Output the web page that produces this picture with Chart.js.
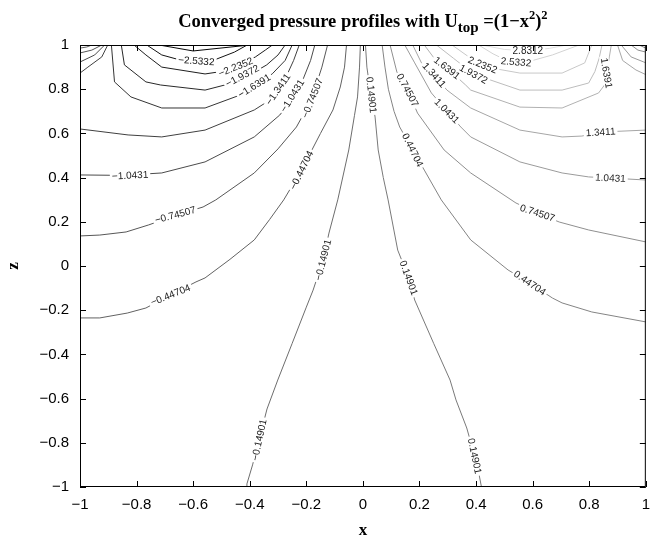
<!DOCTYPE html>
<html>
<head>
<meta charset="utf-8">
<script src="https://cdn.jsdelivr.net/npm/chart.js@4.4.1/dist/chart.umd.min.js"></script>
<style>
html, body { margin: 0; padding: 0; background: #fff; }
#wrap { position: relative; width: 659px; height: 548px; }
</style>
</head>
<body>
<div id="wrap"><canvas id="chart"></canvas></div>
<script>
// contour levels of the pressure field
const levels = [-2.8312, -2.5332, -2.2352, -1.9372, -1.6391, -1.3411, -1.0431, -0.74507, -0.44704, -0.14901,
                0.14901, 0.44704, 0.74507, 1.0431, 1.3411, 1.6391, 1.9372, 2.2352, 2.5332, 2.8312];
const xTicks = [-1, -0.8, -0.6, -0.4, -0.2, 0, 0.2, 0.4, 0.6, 0.8, 1];
const zTicks = [-1, -0.8, -0.6, -0.4, -0.2, 0, 0.2, 0.4, 0.6, 0.8, 1];

// contour paths, [x, z]
const lineM28312 = [[-0.72, 1], [-0.60, 0.973], [-0.40, 1]];
const lineM25332 = [[-0.764, 1], [-0.711, 0.955], [-0.64, 0.93], [-0.59, 0.923], [-0.53, 0.93], [-0.454, 0.968], [-0.409, 1]];
const lineM22352 = [[-0.809, 1], [-0.767, 0.955], [-0.711, 0.9], [-0.558, 0.869], [-0.5, 0.88], [-0.44, 0.905], [-0.38, 0.946], [-0.345, 0.977], [-0.32, 1]];
const lineM19372 = [[-0.854, 1], [-0.843, 0.91], [-0.767, 0.833], [-0.715, 0.819], [-0.558, 0.796], [-0.47, 0.825], [-0.4, 0.865], [-0.34, 0.91], [-0.3, 0.955], [-0.275, 1]];
const lineM16391 = [[-0.889, 1], [-0.878, 0.833], [-0.82, 0.765], [-0.711, 0.715], [-0.558, 0.715], [-0.433, 0.774], [-0.384, 0.81], [-0.32, 0.87], [-0.275, 0.93], [-0.25, 1]];
const lineM13411 = [[-1, 0.62], [-0.83, 0.593], [-0.711, 0.584], [-0.558, 0.615], [-0.384, 0.706], [-0.33, 0.75], [-0.3, 0.8], [-0.27, 0.86], [-0.245, 0.93], [-0.225, 1]];
const lineM10431 = [[-1, 0.412], [-0.85, 0.41], [-0.711, 0.421], [-0.558, 0.471], [-0.384, 0.584], [-0.294, 0.683], [-0.24, 0.77], [-0.21, 0.85], [-0.185, 0.93], [-0.17, 1]];
const lineM074507 = [[-1, 0.136], [-0.93, 0.14], [-0.837, 0.154], [-0.757, 0.186], [-0.66, 0.23], [-0.565, 0.267], [-0.52, 0.299], [-0.384, 0.421], [-0.3, 0.53], [-0.235, 0.629], [-0.2, 0.71], [-0.17, 0.8], [-0.145, 0.9], [-0.125, 1]];
const lineM044704 = [[-1, -0.235], [-0.93, -0.235], [-0.833, -0.213], [-0.767, -0.19], [-0.68, -0.131], [-0.59, -0.072], [-0.558, -0.054], [-0.47, 0.03], [-0.384, 0.118], [-0.33, 0.21], [-0.28, 0.299], [-0.217, 0.434], [-0.15, 0.6], [-0.106, 0.706], [-0.08, 0.81], [-0.065, 0.9], [-0.058, 1]];
const lineM014901 = [[-0.413, -1], [-0.41, -0.986], [-0.39, -0.9], [-0.367, -0.787], [-0.339, -0.647], [-0.301, -0.516], [-0.25, -0.35], [-0.2, -0.186], [-0.176, -0.109], [-0.141, 0.027], [-0.12, 0.149], [-0.089, 0.299], [-0.05, 0.525], [-0.03, 0.68], [-0.019, 0.765], [-0.012, 0.9], [-0.009, 1]];
const lineP014901 = [[0.009, 1], [0.014, 0.9], [0.019, 0.855], [0.03, 0.774], [0.043, 0.674], [0.054, 0.525], [0.072, 0.4], [0.089, 0.299], [0.123, 0.072], [0.162, -0.054], [0.183, -0.154], [0.25, -0.35], [0.308, -0.516], [0.329, -0.606], [0.367, -0.733], [0.395, -0.86], [0.41, -0.94], [0.419, -1]];
const lineP044704 = [[0.068, 1], [0.078, 0.9], [0.09, 0.8], [0.11, 0.7], [0.13, 0.629], [0.176, 0.525], [0.217, 0.434], [0.277, 0.299], [0.381, 0.118], [0.513, -0.018], [0.59, -0.077], [0.67, -0.145], [0.704, -0.167], [0.809, -0.208], [1, -0.253]];
const lineP074507 = [[0.096, 1], [0.12, 0.878], [0.158, 0.796], [0.193, 0.692], [0.287, 0.525], [0.381, 0.421], [0.541, 0.285], [0.617, 0.24], [0.694, 0.199], [0.798, 0.163], [1, 0.109]];
const lineP10431 = [[0.148, 1], [0.183, 0.919], [0.242, 0.783], [0.297, 0.701], [0.346, 0.629], [0.381, 0.584], [0.555, 0.471], [0.704, 0.421], [0.798, 0.403], [0.875, 0.398], [1, 0.389]];
const lineP13411 = [[0.176, 1], [0.207, 0.919], [0.252, 0.864], [0.297, 0.796], [0.381, 0.715], [0.555, 0.615], [0.704, 0.584], [0.774, 0.588], [0.84, 0.606], [1, 0.615]];
const lineP16391 = [[0.217, 1], [0.252, 0.94], [0.297, 0.896], [0.363, 0.819], [0.381, 0.796], [0.555, 0.719], [0.704, 0.715], [0.833, 0.783], [0.854, 0.819], [0.861, 0.873], [0.871, 0.946], [0.878, 1]];
const lineP19372 = [[0.26, 1], [0.32, 0.94], [0.391, 0.869], [0.45, 0.842], [0.555, 0.796], [0.704, 0.796], [0.798, 0.828], [0.82, 0.88], [0.835, 0.94], [0.845, 1]];
const lineP22352 = [[0.315, 1], [0.37, 0.95], [0.423, 0.91], [0.48, 0.89], [0.555, 0.873], [0.704, 0.873], [0.784, 0.919], [0.809, 1]];
const lineP25332 = [[0.409, 1], [0.46, 0.96], [0.5, 0.935], [0.541, 0.923], [0.6, 0.93], [0.67, 0.955], [0.764, 1]];
const lineP28312 = [[0.42, 1], [0.5, 0.98], [0.583, 0.973], [0.66, 0.985], [0.72, 1]];

// small closed pieces in the two top corners
const cornerLeft = [
    [-0.44704, [[-1, 0.986], [-0.976, 0.991], [-0.958, 1]]],
    [-0.74507, [[-1, 0.964], [-0.958, 0.977], [-0.923, 1]]],
    [-1.0431, [[-1, 0.923], [-0.948, 0.955], [-0.913, 1]]],
    [-1.3411, [[-1, 0.873], [-0.972, 0.9], [-0.923, 0.946], [-0.902, 1]]]
];
const cornerRight = [
    [0.44704, [[0.976, 1], [1, 0.986]]],
    [0.74507, [[0.948, 1], [0.972, 0.977], [1, 0.968]]],
    [1.0431, [[0.913, 1], [0.948, 0.946], [0.993, 0.923], [1, 0.919]]],
    [1.3411, [[0.9, 1], [0.918, 0.93], [0.965, 0.887], [1, 0.866]]]
];

const mainLines = [lineM28312, lineM25332, lineM22352, lineM19372, lineM16391, lineM13411, lineM10431, lineM074507, lineM044704, lineM014901,
                   lineP014901, lineP044704, lineP074507, lineP10431, lineP13411, lineP16391, lineP19372, lineP22352, lineP25332, lineP28312];

// in-line labels: level, x, z, angle
const labelSpots = [
    [-2.5332, -0.589, 0.928, 4], [-2.2352, -0.45, 0.9, -22], [-1.9372, -0.426, 0.86, -28], [-1.6391, -0.384, 0.815, -32],
    [-1.3411, -0.3, 0.8, -55], [-1.0431, -0.823, 0.41, -3], [-1.0431, -0.25, 0.77, -58],
    [-0.74507, -0.663, 0.231, -15], [-0.74507, -0.179, 0.76, -68], [-0.44704, -0.68, -0.131, -22], [-0.44704, -0.217, 0.434, -64],
    [-0.14901, -0.367, -0.787, -78], [-0.14901, -0.141, 0.027, -76],
    [0.14901, 0.03, 0.774, 84], [0.14901, 0.162, -0.054, 70], [0.14901, 0.395, -0.86, 78],
    [0.44704, 0.176, 0.525, 64], [0.44704, 0.59, -0.077, 34], [0.74507, 0.158, 0.796, 62], [0.74507, 0.617, 0.24, 18],
    [1.0431, 0.297, 0.701, 45], [1.0431, 0.875, 0.398, 3], [1.3411, 0.252, 0.864, 48], [1.3411, 0.84, 0.606, -4],
    [1.6391, 0.297, 0.896, 38], [1.6391, 0.861, 0.873, 80], [1.9372, 0.391, 0.869, 28], [2.2352, 0.423, 0.91, 22],
    [2.5332, 0.541, 0.923, 5], [2.8312, 0.583, 0.973, 0]
];

function shade(v) {
    const g = Math.max(0, Math.min(225, Math.round(115 + v * 38)));
    return 'rgb(' + g + ',' + g + ',' + g + ')';
}

function fmt(v) {
    const r = Math.round(v * 10) / 10;
    if (r === 0) return '0';
    return (r < 0 ? '\u2212' : '') + String(Math.abs(r));
}

function makeSet(level, pts) {
    return {
        data: pts.map(p => ({ x: p[0], y: p[1] })),
        showLine: true,
        pointRadius: 0,
        borderWidth: 1,
        borderColor: shade(level),
        tension: 0,
        fill: false
    };
}

const datasets = [];
mainLines.forEach((pts, i) => datasets.push(makeSet(levels[i], pts)));
cornerLeft.concat(cornerRight).forEach(c => datasets.push(makeSet(c[0], c[1])));

const decor = {
    id: 'decor',
    afterDraw(chart) {
        const ctx = chart.ctx;
        const a = chart.chartArea;
        const xs = chart.scales.x;
        const ys = chart.scales.y;
        ctx.save();

        /* ================= CONTOUR LABELS ================= */
        ctx.beginPath();
        ctx.rect(a.left, a.top, a.right - a.left, a.bottom - a.top);
        ctx.clip();
        ctx.font = '10px "Liberation Sans", Arial, sans-serif';
        ctx.textAlign = 'center';
        ctx.textBaseline = 'middle';
        labelSpots.forEach(s => {
            const txt = (s[0] < 0 ? '\u2212' : '') + String(Math.abs(s[0]));
            const w = ctx.measureText(txt).width;
            ctx.save();
            ctx.translate(xs.getPixelForValue(s[1]), ys.getPixelForValue(s[2]));
            ctx.rotate(s[3] * Math.PI / 180);
            ctx.fillStyle = '#fff';
            ctx.fillRect(-w / 2 - 2, -4.5, w + 4, 9);
            ctx.fillStyle = '#222';
            ctx.fillText(txt, 0, 0.5);
            ctx.restore();
        });
        ctx.restore();
        ctx.save();

        /* ================= FRAME + TICKS ================= */
        ctx.strokeStyle = '#000';
        ctx.lineWidth = 1;
        ctx.strokeRect(a.left + 0.5, a.top + 0.5, a.right - a.left - 1, a.bottom - a.top - 1);
        ctx.beginPath();
        xTicks.forEach(v => {
            const px = Math.round(xs.getPixelForValue(v)) + 0.5;
            ctx.moveTo(px, a.bottom); ctx.lineTo(px, a.bottom - 6);
            ctx.moveTo(px, a.top); ctx.lineTo(px, a.top + 6);
        });
        zTicks.forEach(v => {
            const py = Math.round(ys.getPixelForValue(v)) + 0.5;
            ctx.moveTo(a.left, py); ctx.lineTo(a.left + 6, py);
            ctx.moveTo(a.right, py); ctx.lineTo(a.right - 6, py);
        });
        ctx.stroke();

        /* ================= TITLE + AXIS NAMES ================= */
        const serif = '"Liberation Serif", "Times New Roman", serif';
        const parts = [
            { t: 'Converged pressure profiles with U', s: 18.5, dy: 0 },
            { t: 'top', s: 15, dy: 5 },
            { t: ' =(1\u2212x', s: 18.5, dy: 0 },
            { t: '2', s: 12.5, dy: -8 },
            { t: ')', s: 18.5, dy: 0 },
            { t: '2', s: 12.5, dy: -8 }
        ];
        let total = 0;
        parts.forEach(p => { ctx.font = 'bold ' + p.s + 'px ' + serif; p.w = ctx.measureText(p.t).width; total += p.w; });
        let cx = (a.left + a.right) / 2 - total / 2;
        ctx.fillStyle = '#000';
        ctx.textAlign = 'left';
        ctx.textBaseline = 'alphabetic';
        parts.forEach(p => {
            ctx.font = 'bold ' + p.s + 'px ' + serif;
            ctx.fillText(p.t, cx, 27 + p.dy);
            cx += p.w;
        });

        ctx.font = 'bold 17px ' + serif;
        ctx.textAlign = 'center';
        ctx.textBaseline = 'middle';
        ctx.fillText('x', (a.left + a.right) / 2, 531);
        ctx.translate(14, (a.top + a.bottom) / 2);
        ctx.rotate(-Math.PI / 2);
        ctx.fillText('z', 0, 0);
        ctx.restore();
    }
};

const tickFont = { family: '"Liberation Sans", Arial, sans-serif', size: 15 };

new Chart(document.getElementById('chart'), {
    type: 'scatter',
    data: { datasets: datasets },
    options: {
        responsive: true,
        maintainAspectRatio: false,
        animation: false,
        events: [],
        layout: { padding: { top: 45, right: 4, left: 0, bottom: 0 } },
        plugins: {
            legend: { display: false },
            tooltip: { enabled: false },
            title: { display: false }
        },
        scales: {
            x: {
                type: 'linear',
                min: -1,
                max: 1,
                afterBuildTicks: s => { s.ticks = xTicks.map(v => ({ value: v })); },
                afterFit: s => { s.height = 61; },
                ticks: { color: '#000', font: tickFont, padding: 9, maxRotation: 0, autoSkip: false, callback: v => fmt(v) },
                grid: { display: false, drawTicks: false },
                border: { display: false }
            },
            y: {
                type: 'linear',
                min: -1,
                max: 1,
                afterBuildTicks: s => { s.ticks = zTicks.map(v => ({ value: v })); },
                afterFit: s => { s.width = 80; },
                ticks: { color: '#000', font: tickFont, padding: 11, autoSkip: false, callback: v => fmt(v) },
                grid: { display: false, drawTicks: false },
                border: { display: false }
            }
        }
    },
    plugins: [decor]
});
</script>
</body>
</html>
